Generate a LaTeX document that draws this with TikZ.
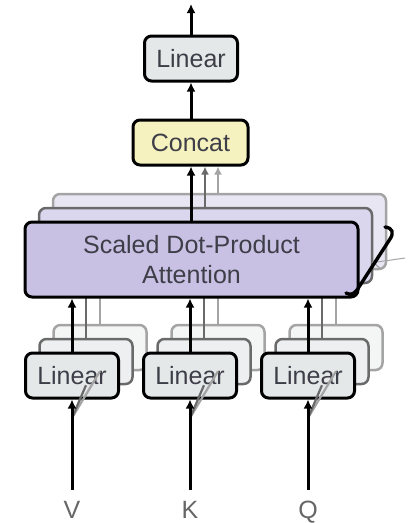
\documentclass[tikz,border=0pt]{standalone}
\usepackage{fontspec}
\setmainfont{Liberation Sans}
\usetikzlibrary{arrows.meta}

\definecolor{linfill}{HTML}{E4E8E9}
\definecolor{linfillb}{HTML}{EDEFF0}
\definecolor{linfillc}{HTML}{F4F5F5}
\definecolor{catfill}{HTML}{F6F2C0}
\definecolor{attfill}{HTML}{C8C1E4}
\definecolor{attfillb}{HTML}{DAD6EE}
\definecolor{attfillc}{HTML}{E8E6F3}
\definecolor{txt}{HTML}{3E3E48}
\definecolor{inlbl}{HTML}{666666}
\definecolor{edgeb}{HTML}{6A6A6A}
\definecolor{edgec}{HTML}{A4A4A4}

\begin{document}
\begin{tikzpicture}[x=1pt,y=-1pt,
  lbl/.style={text=txt, font=\fontsize{25}{30}\selectfont, align=center},
  box/.style={lbl, draw=black, line width=3pt, rounded corners=7pt, inner sep=0pt},
  linbox/.style={box, fill=linfill, minimum width=93pt, minimum height=45pt},
  attbox/.style={box, fill=attfill, minimum width=333pt, minimum height=75pt},
  backb/.style={draw=edgeb, line width=2.5pt},
  backc/.style={draw=edgec, line width=2.5pt},
  arr/.style={draw=black, line width=3pt, -{Latex[length=9pt,width=9pt]}},
  arrb/.style={draw=edgeb, line width=2.5pt, -{Latex[length=8pt,width=8pt]}},
  arrc/.style={draw=edgec, line width=2.5pt, -{Latex[length=8pt,width=8pt]}},
  lineb/.style={draw=edgeb, line width=2.5pt},
  linec/.style={draw=edgec, line width=2.5pt},
]
\useasboundingbox (0,0) rectangle (410,523);

% bottom edge of the front attention box
\coordinate (attbot) at (0,297);

% third (rearmost) copies of the heads
\node[attbox, fill=attfillc, backc] (att3) at (219.5,231.5) {};
\foreach \n/\x in {V/72,K/190,Q/308}
  \node[linbox, fill=linfillc, backc] (lin3\n) at (\x+28,347.5) {};
\foreach \n/\x in {V/72,K/190,Q/308}
  \draw[linec] (lin3\n.north) -- (lin3\n.north |- attbot);
% second copies
\node[attbox, fill=attfillb, backb] (att2) at (205.5,245.5) {};
\foreach \n/\x in {V/72,K/190,Q/308}
  \node[linbox, fill=linfillb, backb] (lin2\n) at (\x+14,361.5) {};
\foreach \n/\x in {V/72,K/190,Q/308}
  \draw[lineb] (lin2\n.north) -- (lin2\n.north |- attbot);

% front head
\node[attbox] (att) at (191.5,259.5) {Scaled Dot-Product\\Attention};
\foreach \n/\x in {V/72,K/190,Q/308}{
  \node[linbox] (lin\n) at (\x,375.5) {Linear};
  \draw[arr] (lin\n.north) -- (lin\n.north |- att.south);
}

% inputs, each also feeding the copies behind
\foreach \n/\x in {V/72,K/190,Q/308}{
  \coordinate (in\n) at (\x,490);
  \coordinate (split\n) at (\x,418);
  \draw[edgec, line width=2.2pt] (split\n) -- (lin3\n.south);
  \draw[edgeb, line width=2.2pt] (split\n) -- (lin2\n.south);
  \draw[arr] (in\n) -- (lin\n.south);
  \node[lbl, text=inlbl, anchor=base, inner sep=0pt] (lab\n) at (\x,518) {\n};
}

% concatenation and output projection
\node[box, fill=catfill, minimum width=115pt, minimum height=45pt] (cat) at (190.5,142.5) {Concat};
\node[linbox] (out) at (191,58.5) {Linear};
\coordinate (top) at (191,4);
\draw[arrc] (att3.north -| 218,0) -- (218,0 |- cat.south);
\draw[arrb] (att2.north -| 205,0) -- (205,0 |- cat.south);
\draw[arr] (att.north -| 191,0) -- (191,0 |- cat.south);
\draw[arr] (cat.north -| out.south) -- (out.south);
\draw[arr] (out.north) -- (top);

% brace over the stacked heads
\coordinate (brA) at (385,227);
\coordinate (brB) at (390,239);
\coordinate (brC) at (357,290);
\coordinate (brD) at (346,293);
\coordinate (brtip) at (377,262);
\coordinate (hlab) at (405,258);
\draw[edgec, line width=1.2pt] (372,262) .. controls (376,263) and (376,266) .. (380,268);
\draw[edgec, line width=1pt] (brtip) -- (hlab);
\draw[black, line width=3.4pt, line cap=round, line join=round]
  (brA) .. controls (393,228) and (394,233) .. (brB) -- (brC)
  .. controls (353,295) and (350,295) .. (brD);
\end{tikzpicture}
\end{document}
